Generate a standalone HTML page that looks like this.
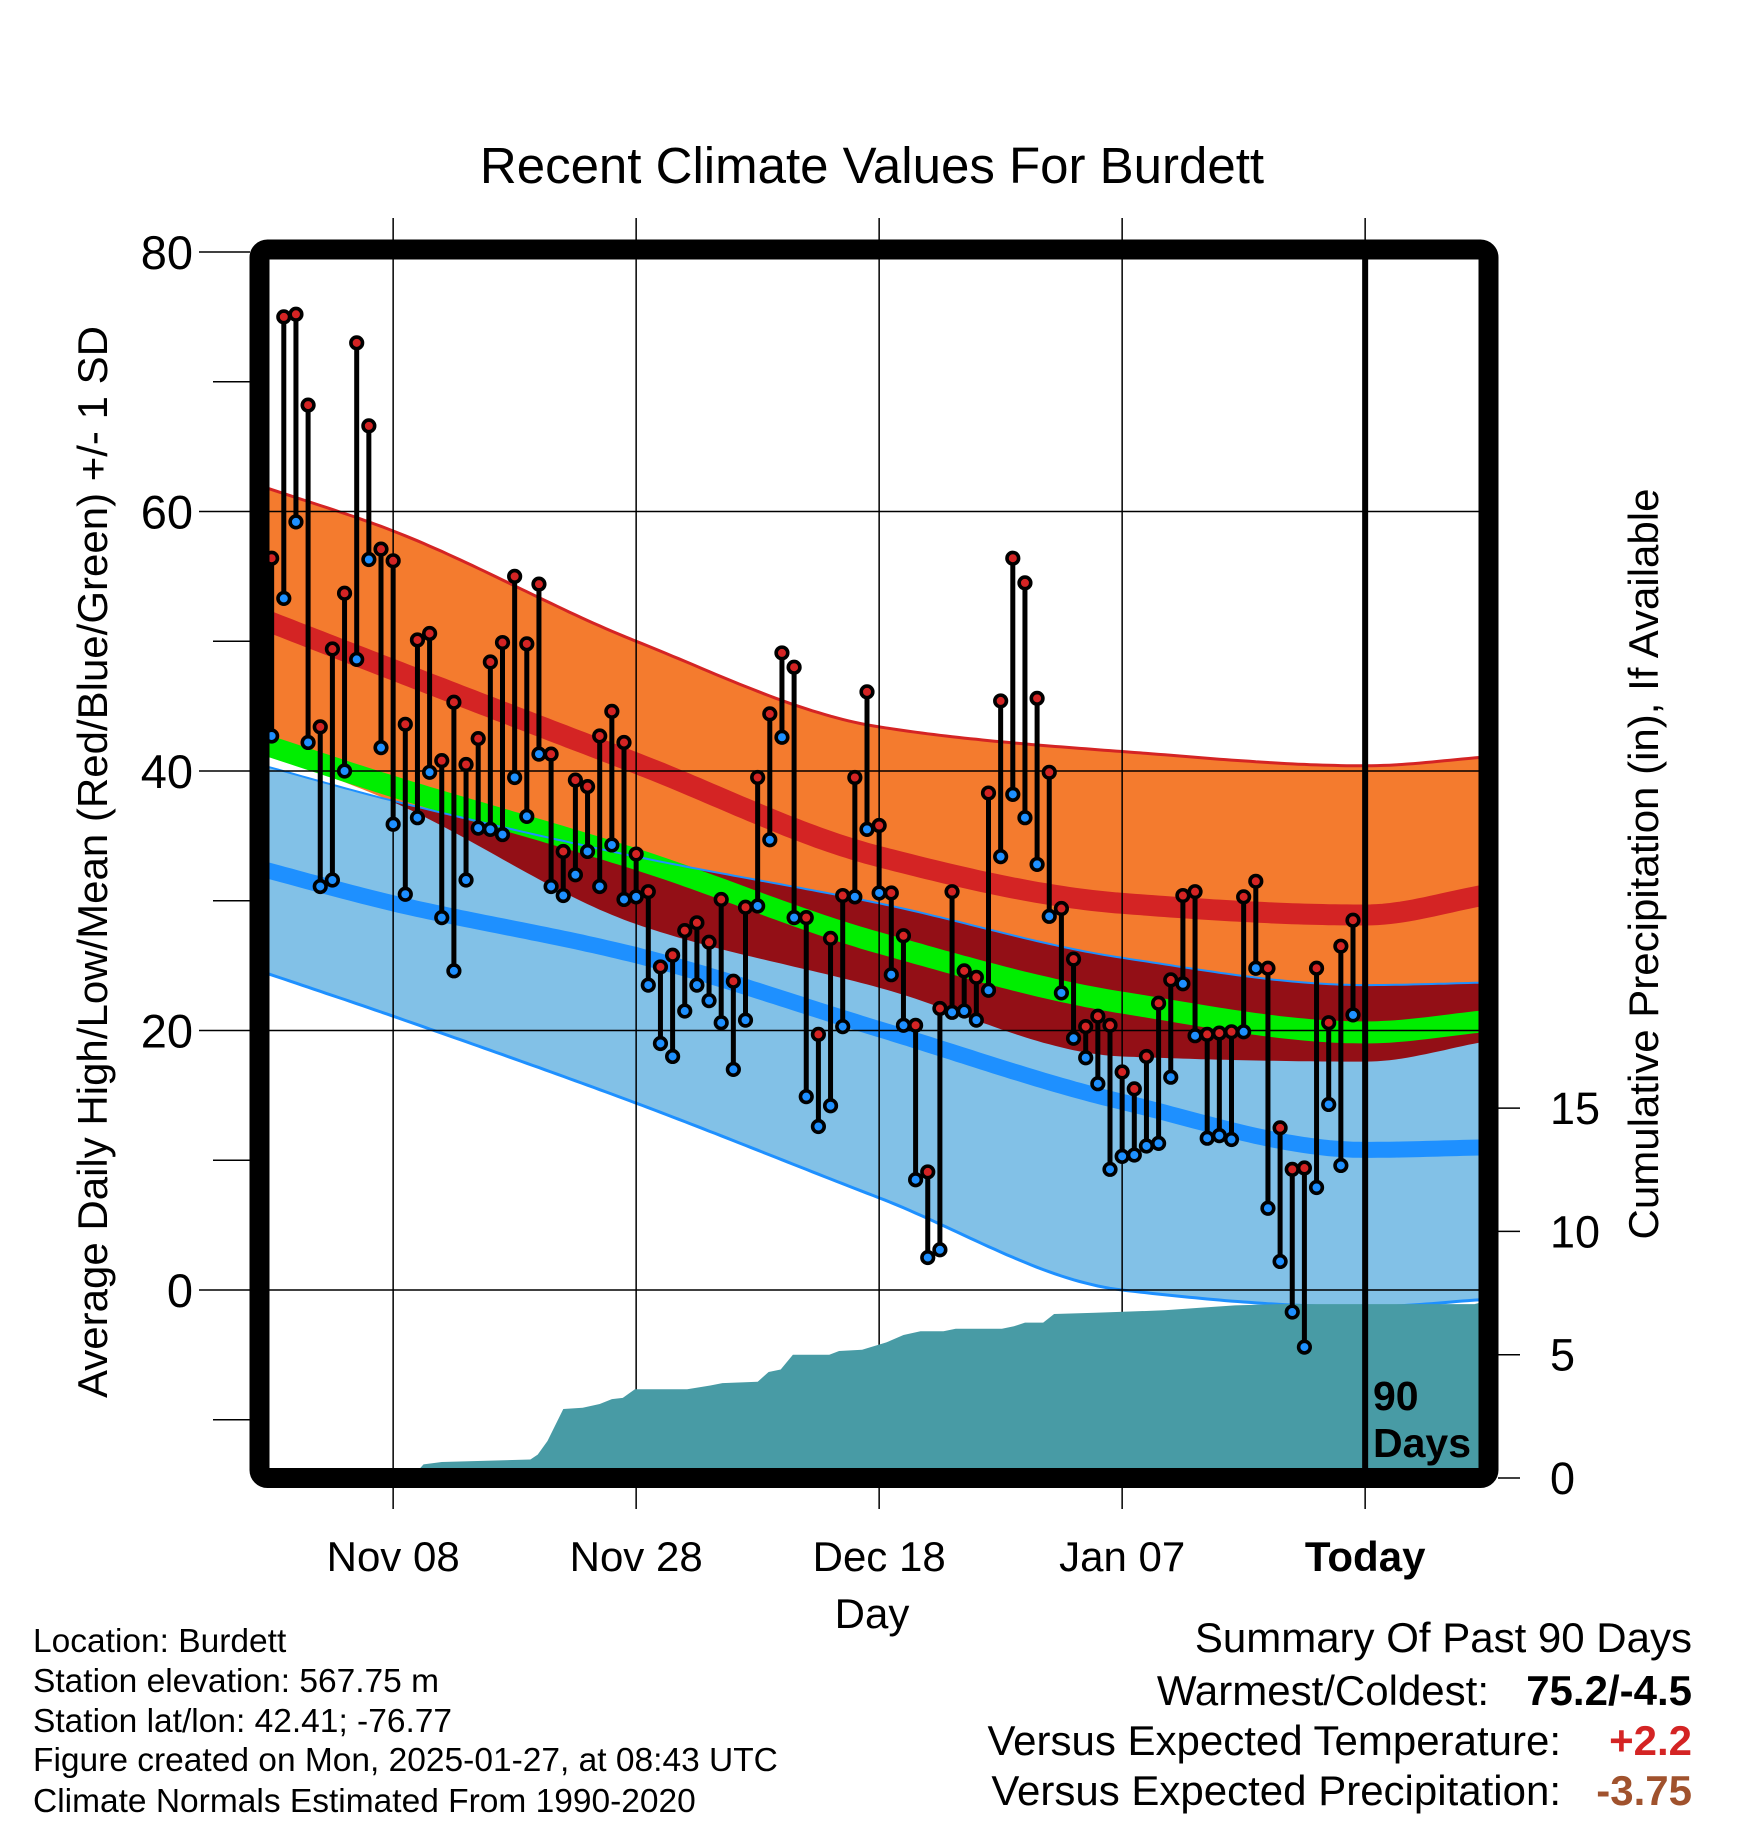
<!DOCTYPE html>
<html><head><meta charset="utf-8"><title>Recent Climate Values For Burdett</title>
<style>
html,body{margin:0;padding:0;background:#fff;}
svg{display:block;font-family:"Liberation Sans",Arial,sans-serif;}
</style></head>
<body>
<svg id="chart" xmlns="http://www.w3.org/2000/svg" width="1748" height="1828" viewBox="0 0 1748 1828">
<defs><clipPath id="plotClip"><rect x="259.5" y="249.5" width="1229" height="1228.5"/></clipPath></defs>
<rect width="1748" height="1828" fill="#fff"/>
<text x="872" y="183" font-size="51" text-anchor="middle">Recent Climate Values For Burdett</text>
<g id="bands" clip-path="url(#plotClip)"></g>
<g id="grid"></g>
<g id="precip" clip-path="url(#plotClip)"></g>
<g id="marks" clip-path="url(#plotClip)"></g>
<rect x="259.5" y="249.5" width="1229" height="1228.5" rx="8" fill="none" stroke="#000" stroke-width="20"/>
<g id="axes"></g>
<text x="1373" y="1410" font-size="41" font-weight="bold">90</text>
<text x="1373" y="1457" font-size="41" font-weight="bold">Days</text>
<text x="872" y="1628" font-size="42" text-anchor="middle">Day</text>
<text transform="translate(107,862) rotate(-90)" font-size="42" text-anchor="middle">Average Daily High/Low/Mean (Red/Blue/Green) +/- 1 SD</text>
<text transform="translate(1658,864) rotate(-90)" font-size="42" text-anchor="middle">Cumulative Precipitation (in), If Available</text>
<g font-size="33.5">
<text x="33" y="1652">Location: Burdett</text>
<text x="33" y="1692">Station elevation: 567.75 m</text>
<text x="33" y="1732">Station lat/lon: 42.41; -76.77</text>
<text x="33" y="1771">Figure created on Mon, 2025-01-27, at 08:43 UTC</text>
<text x="33" y="1812">Climate Normals Estimated From 1990-2020</text>
</g>
<g font-size="42">
<text x="1692" y="1652" text-anchor="end">Summary Of Past 90 Days</text>
<text x="1489" y="1705" text-anchor="end">Warmest/Coldest:</text>
<text x="1692" y="1705" text-anchor="end" font-weight="bold">75.2/-4.5</text>
<text x="1561" y="1755" text-anchor="end">Versus Expected Temperature:</text>
<text x="1692" y="1755" text-anchor="end" font-weight="bold" fill="#d42424">+2.2</text>
<text x="1561" y="1805" text-anchor="end">Versus Expected Precipitation:</text>
<text x="1692" y="1805" text-anchor="end" font-weight="bold" fill="#a0522d">-3.75</text>
</g>
</svg>
<script>
// ---- data ----
const highs = [56.4,75.0,75.2,68.2,43.4,49.4,53.7,73.0,66.6,57.1,56.2,43.6,50.1,50.6,40.8,45.3,40.5,42.5,48.4,49.9,55.0,49.8,54.4,41.3,33.8,39.3,38.8,42.7,44.6,42.2,33.6,30.7,24.9,25.8,27.7,28.3,26.8,30.1,23.8,29.5,39.5,44.4,49.1,48.0,28.7,19.7,27.1,30.4,39.5,46.1,35.8,30.6,27.3,20.4,9.1,21.7,30.7,24.6,24.1,38.3,45.4,56.4,54.5,45.6,39.9,29.4,25.5,20.3,21.1,20.4,16.8,15.5,18.0,22.1,23.9,30.4,30.7,19.7,19.8,19.9,30.3,31.5,24.8,12.5,9.3,9.4,24.8,20.6,26.5,28.5];
const lows = [42.7,53.3,59.2,42.2,31.1,31.6,40.0,48.6,56.3,41.8,35.9,30.5,36.4,39.9,28.7,24.6,31.6,35.6,35.5,35.1,39.5,36.5,41.3,31.1,30.4,32.0,33.8,31.1,34.3,30.1,30.3,23.5,19.0,18.0,21.5,23.5,22.3,20.6,17.0,20.8,29.6,34.7,42.6,28.7,14.9,12.6,14.2,20.3,30.3,35.5,30.6,24.3,20.4,8.5,2.5,3.1,21.4,21.5,20.8,23.1,33.4,38.2,36.4,32.8,28.8,22.9,19.4,17.9,15.9,9.3,10.3,10.4,11.1,11.3,16.4,23.6,19.6,11.7,11.9,11.6,19.9,24.8,6.3,2.2,-1.7,-4.4,7.9,14.3,9.6,21.2];
const normDays = [0,11,31,51,71,91,101.2];
const highTop = [62.0,58.5,50.0,43.4,41.5,40.4,41.1];
const highMean = [51.8,47.8,40.6,33.4,29.8,28.9,30.5];
const highBot = [41.6,37.6,28.2,23.3,18.0,17.6,19.2];
const lowTop = [40.5,37.7,33.4,29.8,25.6,23.5,23.7];
const lowMean = [32.5,29.8,25.8,20.1,14.5,10.8,11.0];
const lowBot = [24.6,21.1,14.4,7.1,0.0,-1.3,-0.7];
const precipDays = [0,12.5,13.5,15,22.3,22.9,23.7,25,26.6,28,29,29.9,30.9,35.2,37.1,38.1,41,41.9,42.9,43.9,46.9,47.7,49.6,51.6,53,54.4,56.3,57.3,61.1,62.1,63,64.5,65.4,68.8,74.5,77.4,80.3,84.1,100,101.2];
const precipCum = [0,0,0.55,0.65,0.75,0.95,1.5,2.8,2.85,3.0,3.2,3.25,3.6,3.6,3.75,3.85,3.9,4.3,4.4,5.0,5.0,5.15,5.2,5.5,5.8,5.95,5.95,6.05,6.05,6.15,6.3,6.3,6.65,6.7,6.8,6.9,7.0,7.05,7.05,7.2];
const yTicks = [80,60,40,20,0];
const yMinor = [70,50,30,10,-10];
const pTicks = [0,5,10,15];
const xTickDays = [11,31,51,71,91];
const xTickLabels = ["Nov 08","Nov 28","Dec 18","Jan 07","Today"];

// ---- scales ----
const X = d => 259.5 + 12.15*d;
const Y = t => 1290 - 12.975*t;
const P = v => 1478 - 24.66*v;
const NS = "http://www.w3.org/2000/svg";
function mk(tag, attrs, parent){const e=document.createElementNS(NS,tag);for(const k in attrs)e.setAttribute(k,attrs[k]);parent.appendChild(e);return e;}
function interp(vals, d){
  const k=normDays, n=k.length; let i=0;
  while(i<n-2 && d>k[i+1]) i++;
  const sec=j=>(vals[j+1]-vals[j])/(k[j+1]-k[j]);
  const tan=j=>{
    if(j===0) return sec(0);
    if(j===n-1) return sec(n-2);
    const a=sec(j-1), b=sec(j);
    if(a*b<=0) return 0;
    return 2/(1/a+1/b);
  };
  const h=k[i+1]-k[i], t=(d-k[i])/h;
  const m0=tan(i)*h, m1=tan(i+1)*h, t2=t*t, t3=t2*t;
  return (2*t3-3*t2+1)*vals[i]+(t3-2*t2+t)*m0+(-2*t3+3*t2)*vals[i+1]+(t3-t2)*m1;
}
const ds=[]; for(let d=0; d<=101.2; d+=0.5) ds.push(d); ds.push(101.2);
function line(arr){return ds.map((d,i)=>(i?"L":"M")+X(d).toFixed(1)+","+Y(interp(arr,d)).toFixed(1)).join("");}
function band(up,lo){
  const a=ds.map((d,i)=>(i?"L":"M")+X(d).toFixed(1)+","+Y(up(d)).toFixed(1)).join("");
  const b=ds.slice().reverse().map(d=>"L"+X(d).toFixed(1)+","+Y(lo(d)).toFixed(1)).join("");
  return a+b+"Z";
}
const bands=document.getElementById("bands");
let e;
e=mk("path",{d:band(d=>interp(highTop,d),d=>interp(highBot,d)),fill:"#f47b2e"},bands);


e=mk("path",{d:band(d=>interp(lowTop,d),d=>interp(lowBot,d)),fill:"#82c1e7"},bands);


e=mk("path",{d:band(d=>Math.max(interp(lowTop,d),interp(highBot,d)),d=>interp(highBot,d)),fill:"#930f16"},bands);


const meanF=d=>(interp(highMean,d)+interp(lowMean,d))/2;
e=mk("path",{d:band(d=>meanF(d)+0.85,d=>meanF(d)-0.85),fill:"#00ee00"},bands);


e=mk("path",{d:line(highTop),fill:"none",stroke:"#d42424","stroke-width":3},bands);


e=mk("path",{d:line(lowTop),fill:"none",stroke:"#1e90ff","stroke-width":2},bands);


e=mk("path",{d:line(lowBot),fill:"none",stroke:"#1e90ff","stroke-width":3},bands);


e=mk("path",{d:line(highMean),fill:"none",stroke:"#d42424","stroke-width":21},bands);


e=mk("path",{d:line(lowMean),fill:"none",stroke:"#1e90ff","stroke-width":16},bands);



// grid
const grid=document.getElementById("grid");
yTicks.forEach(t=>{ if(t===80) return;
  e=mk("line",{x1:259.5,x2:1488.5,y1:Y(t),y2:Y(t),stroke:"#000","stroke-width":1.5},grid);
  
  
});
xTickDays.forEach((d,i)=>{
  e=mk("line",{x1:X(d),x2:X(d),y1:218,y2:1509,stroke:"#000","stroke-width":1.5},grid);
  
  
});

// precip
const pr=document.getElementById("precip");
let pd="M"+X(precipDays[0])+","+P(0);
precipDays.forEach((d,i)=>{pd+="L"+X(d).toFixed(1)+","+P(precipCum[i]).toFixed(1);});
pd+="L"+X(precipDays[precipDays.length-1])+","+P(0)+"Z";
e=mk("path",{d:pd,fill:"#489ba5"},pr);



// today line
const marks=document.getElementById("marks");
e=mk("line",{x1:X(91),x2:X(91),y1:249,y2:1478,stroke:"#000","stroke-width":6},marks);



// daily marks
highs.forEach((h,i)=>{
  const d=i+1, x=X(d);
  const g=mk("g",{},marks);
  
  
  e=mk("line",{x1:x,x2:x,y1:Y(h),y2:Y(lows[i]),stroke:"#000","stroke-width":5},g);
  
  
  e=mk("circle",{cx:x,cy:Y(lows[i]),r:5.8,fill:"#1e90ff",stroke:"#000","stroke-width":3.6},g);
  
  
  e=mk("circle",{cx:x,cy:Y(h),r:5.8,fill:"#d42424",stroke:"#000","stroke-width":3.6},g);
  
  
});

// axes ticks & labels
const ax=document.getElementById("axes");
yTicks.forEach(t=>{
  e=mk("line",{x1:199,x2:250,y1:Y(t),y2:Y(t),stroke:"#000","stroke-width":1.5},ax);
  
  
  e=mk("text",{x:193,y:Y(t)+17,"font-size":47,"text-anchor":"end"},ax);
  e.textContent=String(t);
  
  
});
yMinor.forEach(t=>{
  e=mk("line",{x1:213,x2:250,y1:Y(t),y2:Y(t),stroke:"#000","stroke-width":1.5},ax);
  
  
});
pTicks.forEach(v=>{
  e=mk("line",{x1:1498,x2:1520,y1:P(v),y2:P(v),stroke:"#000","stroke-width":1.5},ax);
  
  
  e=mk("text",{x:1550,y:P(v)+16,"font-size":45},ax);
  e.textContent=String(v);
  
  
});
xTickDays.forEach((d,i)=>{
  e=mk("text",{x:X(d),y:1571,"font-size":42,"text-anchor":"middle","font-weight":i===4?"bold":"normal"},ax);
  e.textContent=xTickLabels[i];
  
  
});
</script>
</body></html>
